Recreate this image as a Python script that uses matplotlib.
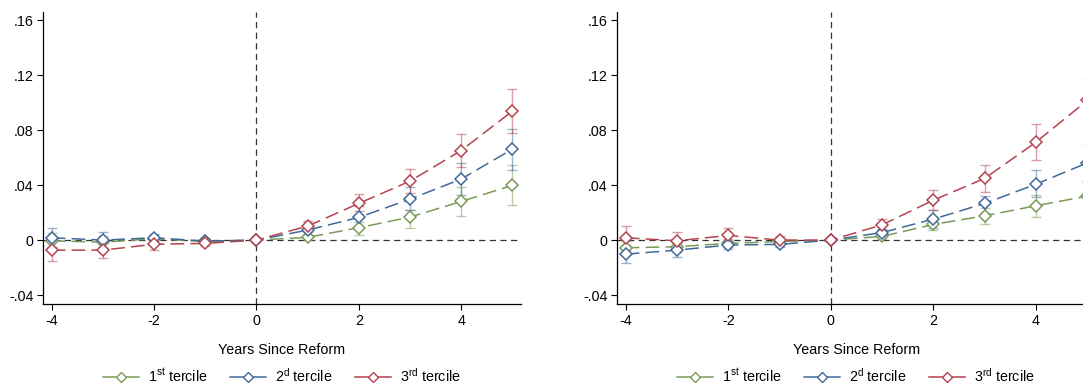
import matplotlib
matplotlib.use("Agg")
import matplotlib.pyplot as plt
from matplotlib.lines import Line2D
import numpy as np

plt.rcParams['font.family'] = ['Liberation Sans', 'DejaVu Sans']
plt.rcParams['mathtext.fontset'] = 'custom'
plt.rcParams['mathtext.rm'] = 'Liberation Sans'
plt.rcParams['mathtext.it'] = 'Liberation Sans'

years = [-4, -3, -2, -1, 0, 1, 2, 3, 4, 5]
series_names = ["1$^{\\mathrm{st}}$ tercile", "2$^{\\mathrm{d}}$ tercile", "3$^{\\mathrm{rd}}$ tercile"]
colors = ["#7a9a58", "#40699a", "#b5434f"]

# Left panel
left_t1 = [-0.0005, -0.0015, 0.001, -0.001, 0.0, 0.002, 0.009, 0.0167, 0.0281, 0.0398]
left_t1_lo = [-0.006, -0.006, -0.002, -0.003, 0.0, 0.0, 0.0036, 0.009, 0.0175, 0.0255]
left_t1_hi = [0.005, 0.003, 0.004, 0.001, 0.0, 0.004, 0.013, 0.022, 0.0385, 0.0545]
left_t2 = [0.0017, 0.0, 0.0017, -0.0007, 0.0, 0.0073, 0.0165, 0.0298, 0.0444, 0.0662]
left_t2_lo = [-0.005, -0.006, -0.001, -0.003, 0.0, 0.004, 0.0085, 0.0218, 0.0327, 0.051]
left_t2_hi = [0.009, 0.006, 0.0045, 0.0015, 0.0, 0.0105, 0.0247, 0.0385, 0.0558, 0.081]
left_t3 = [-0.0073, -0.0073, -0.003, -0.0024, 0.0, 0.0102, 0.0267, 0.0429, 0.0652, 0.0938]
left_t3_lo = [-0.015, -0.013, -0.007, -0.0045, 0.0, 0.006, 0.021, 0.034, 0.053, 0.078]
left_t3_hi = [0.001, -0.0015, 0.001, 0.0, 0.0, 0.014, 0.0332, 0.052, 0.077, 0.110]

# Right panel
right_t1 = [-0.0056, -0.0048, -0.0024, -0.001, 0.0, 0.0027, 0.0114, 0.0177, 0.025, 0.032]
right_t1_lo = [-0.010, -0.009, -0.005, -0.003, 0.0, 0.0005, 0.007, 0.0114, 0.017, 0.021]
right_t1_hi = [-0.001, -0.0005, 0.0005, 0.001, 0.0, 0.005, 0.016, 0.023, 0.0327, 0.043]
right_t2 = [-0.0102, -0.0073, -0.0036, -0.0031, 0.0, 0.0055, 0.0153, 0.0267, 0.0407, 0.0562]
right_t2_lo = [-0.017, -0.0126, -0.0065, -0.005, 0.0, 0.003, 0.009, 0.020, 0.0316, 0.043]
right_t2_hi = [-0.0035, -0.002, -0.0005, -0.001, 0.0, 0.008, 0.022, 0.032, 0.0509, 0.069]
right_t3 = [0.0017, -0.0005, 0.0034, 0.0, 0.0, 0.0111, 0.0291, 0.0449, 0.0713, 0.1016]
right_t3_lo = [-0.007, -0.007, -0.0015, -0.003, 0.0, 0.007, 0.022, 0.035, 0.058, 0.085]
right_t3_hi = [0.0104, 0.006, 0.0085, 0.003, 0.0, 0.0152, 0.0364, 0.055, 0.0844, 0.118]

yticks = [-0.04, 0, 0.04, 0.08, 0.12, 0.16]
ytick_labels = ["-.04", "0", ".04", ".08", ".12", ".16"]
xticks = [-4, -2, 0, 2, 4]
xlabel = "Years Since Reform"

W, H = 1083, 385
FS = 10.3
fig = plt.figure(figsize=(W / 100, H / 100), dpi=100)

panels = [
    ((43, 521), [(left_t1, left_t1_lo, left_t1_hi), (left_t2, left_t2_lo, left_t2_hi), (left_t3, left_t3_lo, left_t3_hi)]),
    ((617, 1096), [(right_t1, right_t1_lo, right_t1_hi), (right_t2, right_t2_lo, right_t2_hi), (right_t3, right_t3_lo, right_t3_hi)]),
]

top_px, bot_px = 12, 304
for (x0, x1), data in panels:
    ax = fig.add_axes([x0 / W, 1 - bot_px / H, (x1 - x0) / W, (bot_px - top_px) / H])
    ax.set_xlim(-4.17, 5.17)
    ax.set_ylim(-0.0465, 0.166)
    ax.axhline(0, color="#333333", lw=0.9, ls=(0, (5, 3.5)), zorder=1)
    ax.axvline(0, color="#333333", lw=0.9, ls=(0, (5, 3.5)), zorder=1)
    x = np.array(years)
    for (vals, lo, hi), c in zip(data, colors):
        vals = np.array(vals); lo = np.array(lo); hi = np.array(hi)
        ax.errorbar(x, vals, yerr=[vals - lo, hi - vals], fmt="none", ecolor=c,
                    alpha=0.5, elinewidth=1.0, capsize=3.5, capthick=1.0, zorder=2)
        ax.plot(x, vals, color=c, lw=1.1, ls=(0, (9, 4)), marker="D", markersize=6.5,
                markerfacecolor="white", markeredgecolor=c, markeredgewidth=1.1, zorder=3,
                clip_on=False)
    for s in ["top", "right"]:
        ax.spines[s].set_visible(False)
    ax.spines["left"].set_linewidth(0.9)
    ax.spines["bottom"].set_linewidth(0.9)
    ax.set_yticks(yticks)
    ax.set_yticklabels(ytick_labels)
    ax.set_xticks(xticks)
    ax.set_xticklabels([str(t) for t in xticks])
    ax.tick_params(axis="both", direction="out", length=4, width=0.8, labelsize=FS, pad=3)
    ax.set_xlabel(xlabel, fontsize=FS, labelpad=11)
    handles = [Line2D([0], [0], color=c, lw=1.1, marker="D", markersize=5.5,
                      markerfacecolor="white", markeredgecolor=c) for c in colors]
    cx = ((x0 + min(x1, 521 + (x0 - 43))) / 2) / W
    fig.legend(handles, series_names, loc="center", bbox_to_anchor=(cx, 1 - 376 / H),
               ncol=3, frameon=False, fontsize=FS, handlelength=2.5, columnspacing=1.6,
               handletextpad=0.63, borderpad=0, borderaxespad=0)

fig.savefig("out.png", dpi=100)
